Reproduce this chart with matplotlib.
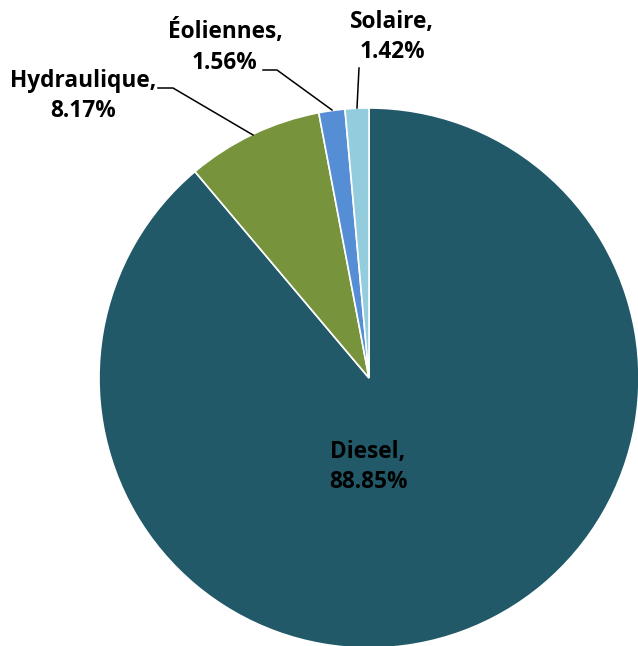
import matplotlib.pyplot as plt

labels = ["Diesel", "Hydraulique", "Éoliennes", "Solaire"]
values = [88.85, 8.17, 1.56, 1.42]
colors = ["#215968", "#77933C", "#558ED5", "#93CDDD"]

W, H = 638, 646
fig = plt.figure(figsize=(W / 100, H / 100), dpi=100)
ax = fig.add_axes([0, 0, 1, 1])

cx, cy, r = 369, H - 378, 270
ax.pie(values, colors=colors, startangle=90, counterclock=False,
       center=(cx, cy), radius=r, frame=True,
       wedgeprops=dict(edgecolor="white", linewidth=1.2))
ax.set_xlim(0, W)
ax.set_ylim(0, H)
ax.set_aspect("equal")
ax.axis("off")

font = dict(family=["Open Sans", "DejaVu Sans"], fontweight="bold", fontsize=16.3,
            color="black", ha="center", va="center", linespacing=1.35)

# label positions (pixel coords from top-left)
pos = {
    "Diesel": (368, 467),
    "Hydraulique": (83, 96),
    "Éoliennes": (225, 47),
    "Solaire": (392, 37),
}
for lab, v in zip(labels, values):
    x, y = pos[lab]
    ax.text(x, H - y, f"{lab},\n{v:.2f}%", **font)

# leader lines
leaders = [
    [(158, 88), (173, 88), (253, 135)],
    [(263, 70), (277, 70), (332, 110)],
    [(359, 68), (357, 108)],
]
for pts in leaders:
    xs = [p[0] for p in pts]
    ys = [H - p[1] for p in pts]
    ax.plot(xs, ys, color="black", linewidth=1.1)

fig.savefig("out.png", dpi=100, facecolor="white")
